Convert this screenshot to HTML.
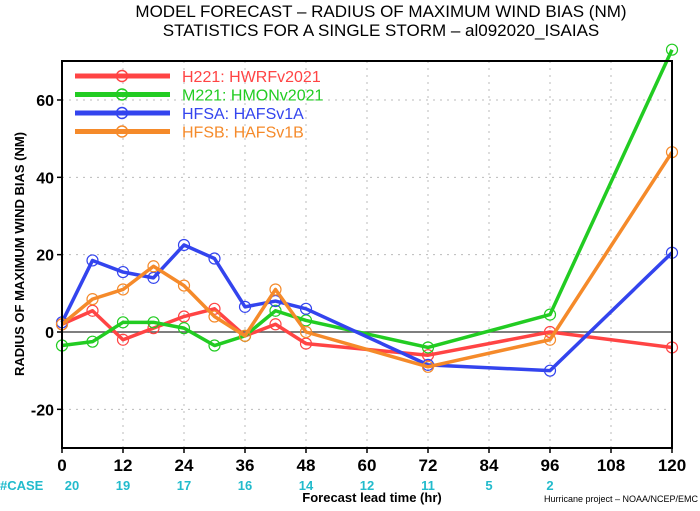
<!DOCTYPE html>
<html><head><meta charset="utf-8"><style>
body{margin:0;background:#fff;width:700px;height:506px;overflow:hidden}
text{font-family:"Liberation Sans",sans-serif}
</style></head><body>
<svg width="700" height="506">
<g id="grid"></g>
<g id="series"></g>
<g id="axes"></g>
</svg>
<script>
const hours=[0,6,12,18,24,30,36,42,48,72,96,120];
const h221=[2,5.5,-2,1,4,6,-1,2,-3,-6,0,-4];
const m221=[-3.5,-2.5,2.5,2.5,1,-3.5,-1,5.5,3,-4,4.5,73];
const hfsa=[2.5,18.5,15.5,14,22.5,19,6.5,8,6,-8.5,-10,20.5];
const hfsb=[2,8.5,11,17,12,4,-1,11,0,-9,-2,46.5];
const xTicks=[0,12,24,36,48,60,72,84,96,108,120];
const yTicks=[-20,0,20,40,60];
const caseHours=[0,12,24,36,48,60,72,84,96];
const caseCounts=[20,19,17,16,14,12,11,5,2];
const names=["H221: HWRFv2021","M221: HMONv2021","HFSA: HAFSv1A","HFSB: HAFSv1B"];
const colors=["#ff4444","#22cc22","#3344ee","#f58a2a"];
const L=62,R=672,T=61,B=448;
const X=h=>L+(h/120)*(R-L);
const Y=v=>332-v*3.867;
const NS="http://www.w3.org/2000/svg";
function mk(p,tag,attrs,txt){const e=document.createElementNS(NS,tag);for(const k in attrs)e.setAttribute(k,attrs[k]);if(txt!==undefined)e.textContent=txt;p.appendChild(e);return e;}
const svg=document.querySelector('svg');
const grid=document.getElementById('grid'),ser=document.getElementById('series'),ax=document.getElementById('axes');
xTicks.forEach(h=>{if(h>0&&h<120){const g=mk(grid,'line',{x1:X(h),x2:X(h),y1:T,y2:B,stroke:'#bbb','stroke-dasharray':'2,5'});

}});
yTicks.forEach(v=>{const g=mk(grid,'line',{x1:L,x2:R,y1:Y(v),y2:Y(v),stroke:'#bbb','stroke-dasharray':'2,5'});

});
const zl=mk(grid,'line',{x1:L,x2:R,y1:Y(0),y2:Y(0),stroke:'#555','stroke-width':1.5});


[h221,m221,hfsa,hfsb].forEach((d,i)=>{
 const g=mk(ser,'g',{});
 
 
 mk(g,'polyline',{points:d.map((v,j)=>X(hours[j])+','+Y(v)).join(' '),fill:'none',stroke:colors[i],'stroke-width':3.5,'stroke-linejoin':'round'});
 d.forEach((v,j)=>{const c=mk(g,'circle',{cx:X(hours[j]),cy:Y(v),r:5.5,fill:'none',stroke:colors[i],'stroke-width':1.2});
 
 });
});
const fr=mk(ax,'rect',{x:L,y:T,width:R-L,height:B-T,fill:'none',stroke:'#000','stroke-width':2});


xTicks.forEach(h=>{mk(ax,'line',{x1:X(h),x2:X(h),y1:B,y2:B+5,stroke:'#000','stroke-width':1.5});
 const t=mk(ax,'text',{x:X(h),y:B+23,'text-anchor':'middle','font-size':17,'font-weight':'bold'},h);
 
 });
yTicks.forEach(v=>{mk(ax,'line',{x1:L-5,x2:L,y1:Y(v),y2:Y(v),stroke:'#000','stroke-width':1.5});
 const t=mk(ax,'text',{x:L-8,y:Y(v)+6,'text-anchor':'end','font-size':16,'font-weight':'bold'},v);
 
 });
caseHours.forEach((h,i)=>{const t=mk(ax,'text',{x:X(h)+(i==0?10:0),y:B+42,'text-anchor':'middle','font-size':13,'font-weight':'bold',fill:'#22bbcc'},caseCounts[i]);
 
 });
names.forEach((n,i)=>{const y=76+i*18.5;
 const g=mk(ax,'g',{});
 
 
 mk(g,'line',{x1:75,x2:170,y1:y,y2:y,stroke:colors[i],'stroke-width':5});
 mk(g,'circle',{cx:122,cy:y,r:5.5,fill:'none',stroke:colors[i],'stroke-width':1.5});
 mk(g,'text',{x:182,y:y+6,'font-size':16,fill:colors[i]},n);
});
</script>
<svg width="700" height="506" style="position:absolute;left:0;top:0">
<text x="381" y="17" text-anchor="middle" font-size="17">MODEL FORECAST – RADIUS OF MAXIMUM WIND BIAS (NM)</text>
<text x="381" y="36" text-anchor="middle" font-size="17">STATISTICS FOR A SINGLE STORM – al092020_ISAIAS</text>
<text x="0" y="0" transform="translate(24,254) rotate(-90)" text-anchor="middle" font-size="13" font-weight="bold">RADIUS OF MAXIMUM WIND BIAS (NM)</text>
<text x="0" y="490" font-size="13" font-weight="bold" fill="#22bbcc">#CASE</text>
<text x="372" y="502" text-anchor="middle" font-size="13" font-weight="bold">Forecast lead time (hr)</text>
<text x="698" y="502" text-anchor="end" font-size="9">Hurricane project – NOAA/NCEP/EMC</text>
</svg>
</body></html>
